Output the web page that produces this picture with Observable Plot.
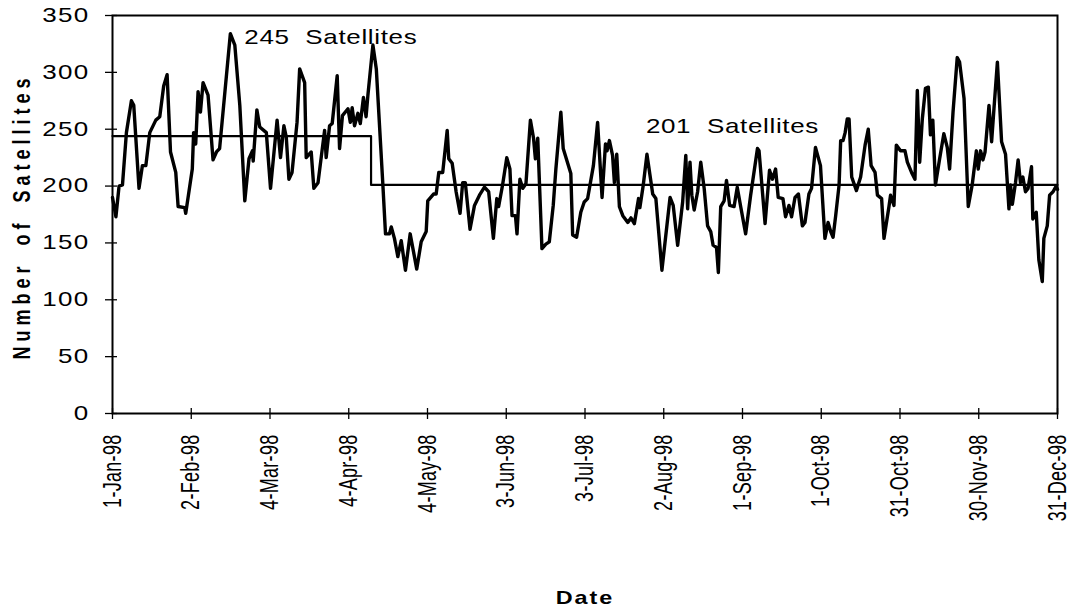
<!DOCTYPE html>
<html><head><meta charset="utf-8">
<script src="https://cdn.jsdelivr.net/npm/d3@7"></script>
<script src="https://cdn.jsdelivr.net/npm/@observablehq/plot@0.6"></script>
<style>body{margin:0;background:#fff}</style>
</head><body><div id="chart"></div>
<script>
// Position along the 1998 axis (category index, 30 per labelled tick) and satellite counts read at the line's vertices
const day = [0,1.3,2.5,3.8,5.3,7.2,8.1,10.1,11.4,12.7,14.2,16.5,18.0,19.5,20.8,22.1,24.1,25.0,27.5,27.9,30.4,30.9,31.7,32.6,33.5,34.5,36.4,38.3,39.6,40.8,
  44.9,46.6,48.5,50.4,52.0,53.3,53.6,55.0,56.1,58.6,60.2,62.7,64.0,65.3,66.2,67.2,68.4,70.3,71.3,73.2,73.8,75.7,76.7,78.3,80.8,81.4,82.7,83.7,85.6,86.5,87.6,
  89.7,90.6,91.3,92.2,93.5,94.4,95.6,96.6,97.3,99.2,100.5,103.0,104.0,105.5,106.2,107.4,108.7,110.0,111.6,113.4,115.9,117.6,119.5,120.1,122.3,123.3,124.3,125.8,127.5,128.1,129.4,130.9,132.4,133.4,134.4,
  136.2,137.9,139.8,141.7,143.3,145.1,146.4,147.1,148.6,150.2,151.4,152.2,153.5,154.1,155.2,156.3,157.5,159.2,160.4,161.1,162.0,163.6,165.1,166.4,167.9,168.9,170.8,171.7,174.6,175.3,176.8,178.4,179.7,181.0,
  183.2,184.8,186.5,187.8,188.4,189.3,190.5,191.2,192.1,193.1,194.4,196.3,197.5,198.8,200.4,200.9,202.2,203.6,205.8,207.0,209.3,212.4,213.6,215.3,217.2,218.4,219.1,220.0,220.7,221.6,222.9,224.1,225.4,226.7,
  227.9,228.8,230.1,230.8,231.7,233.0,233.9,235.1,236.8,238.0,239.3,241.2,243.1,245.7,246.3,248.6,250.3,251.4,252.6,253.6,255.4,256.4,257.7,258.7,260.0,261.3,262.8,263.8,265.3,266.3,267.8,269.7,271.4,
  272.6,273.6,274.5,275.5,276.8,277.4,278.3,279.1,279.9,280.6,281.6,283.4,285.0,286.7,287.9,289.0,290.5,291.4,293.0,293.9,295.8,296.4,297.7,298.6,300.2,301.9,302.8,304.4,305.7,306.6,307.5,308.5,309.7,310.8,311.6,312.5,313.5,315.1,316.7,318.0,318.9,
  320.2,321.8,322.7,324.4,326.0,327.5,329.1,329.8,330.7,331.6,332.4,333.9,334.9,335.8,337.1,338.7,340.2,341.5,342.1,342.8,344.0,345.0,345.9,346.8,347.8,348.8,350.1,350.6,351.9,352.9,354.2,354.8,356.1,357.0,358.3,359.5,360];
const satellites = [190,173,200,201,247,275,271,198,218,218,247,258,261,288,298,230,212,182,181,176,215,247,237,283,265,291,280,223,230,233,
  334,324,271,187,224,231,222,267,252,247,198,258,225,253,243,206,212,256,303,291,225,230,198,203,249,225,253,255,297,233,262,
  268,256,269,253,264,255,278,261,280,324,303,201,158,158,164,154,138,152,126,158,127,151,160,187,193,193,212,212,249,224,220,195,176,203,203,
  162,183,192,199,195,154,189,182,201,225,215,174,174,158,206,198,202,258,242,224,242,145,149,151,183,215,265,233,211,157,155,177,186,189,
  218,256,190,237,231,240,227,203,228,182,174,168,172,167,189,181,201,228,193,189,126,190,183,148,186,227,180,221,192,179,195,221,198,165,
  160,148,146,124,182,187,205,183,182,199,182,158,192,233,231,167,214,206,215,190,189,173,183,173,190,193,165,168,193,198,234,218,154,
  168,160,155,174,201,240,240,247,259,259,208,196,208,236,250,218,212,192,189,154,182,192,183,236,231,231,221,212,206,284,221,259,286,287,245,258,201,224,246,234,215,
  265,313,309,277,182,201,231,215,231,223,230,271,239,268,309,239,228,180,201,184,203,223,203,208,195,198,217,171,177,135,116,154,165,192,195,200,197];

// Period averages (step line)
const meanDay = [0, 98.5, 360];
const meanSatellites = [244, 201, 201];
const annotationText = ["245  Satellites", "201  Satellites"];
const annotationDay = [50.2, 203.2];
const annotationLevel = [331, 252];

// Axis ticks
const yTicks = [0, 50, 100, 150, 200, 250, 300, 350];
const xTickDay = [0, 30, 60, 90, 120, 150, 180, 210, 240, 270, 300, 330, 360];
const xTickLabels = ["1-Jan-98","2-Feb-98","4-Mar-98","4-Apr-98","4-May-98","3-Jun-98","3-Jul-98","2-Aug-98","1-Sep-98","1-Oct-98","31-Oct-98","30-Nov-98","31-Dec-98"];

const points = day.map((d, i) => ({day: d, value: satellites[i]}));
const means = meanDay.map((d, i) => ({day: d, value: meanSatellites[i]}));
const notes = annotationText.map((t, i) => ({text: t, day: annotationDay[i], value: annotationLevel[i]}));

const W = 1070, H = 614, mL = 112, mR = 13, mT = 15, mB = 201;
const innerW = W - mL - mR, innerH = H - mT - mB;

const chart = Plot.plot({
  width: W, height: H,
  marginLeft: mL, marginRight: mR, marginTop: mT, marginBottom: mB,
  style: {fontFamily: "'Liberation Sans', Arial, Helvetica, sans-serif", color: "#000", background: "#fff"},
  x: {type: "linear", domain: [0, 360], axis: null},
  y: {domain: [0, 350], axis: null},
  marks: [
    Plot.axisY({ticks: yTicks, tickFormat: d => String(d), tickSize: 7, tickPadding: 16, fontSize: 20, label: null, strokeWidth: 1.3}),
    Plot.tickY(yTicks, {y: d => d, insetRight: innerW - 5, stroke: "#000", strokeWidth: 1.3}),
    Plot.axisX({ticks: xTickDay, tickFormat: d => xTickLabels[xTickDay.indexOf(d)], tickSize: 6, tickPadding: 15, tickRotate: -90, fontSize: 18, label: null, strokeWidth: 1.3}),
    Plot.tickX(xTickDay, {x: d => d, insetTop: innerH - 5, stroke: "#000", strokeWidth: 1.3}),
    Plot.line(means, {x: "day", y: "value", curve: "step-after", stroke: "#000", strokeWidth: 2.2}),
    Plot.line(points, {x: "day", y: "value", stroke: "#000", strokeWidth: 3.4, strokeLinejoin: "round", strokeLinecap: "round"}),
    Plot.text(notes, {x: "day", y: "value", text: "text", textAnchor: "start", fontSize: 20, fill: "#000"}),
    Plot.text(["Number of Satellites"], {frameAnchor: "left", textAnchor: "middle", dx: -90, dy: 2, rotate: -90, fontSize: 18, fontWeight: "bold", fill: "#000"}),
    Plot.text(["Date"], {frameAnchor: "bottom", dy: 190, fontSize: 18, fontWeight: "bold", fill: "#000"}),
    Plot.frame({stroke: "#000", strokeWidth: 2})
  ]
});

// The original artwork is horizontally stretched: widen every glyph around its own anchor point.
function stretch(el, sx) {
  const t = el.getAttribute("transform") || "";
  const m = /translate\(\s*([-\d.e]+)[ ,]+([-\d.e]+)\s*\)/.exec(t);
  let ax, ay;
  if (m) { ax = +m[1]; ay = +m[2]; }
  else { ax = +(el.getAttribute("x") || 0); ay = +(el.getAttribute("y") || 0); }
  el.setAttribute("transform", `translate(${ax},${ay}) scale(${sx},1) translate(${-ax},${-ay}) ${t}`);
}
const s = d3.select(chart);
s.selectAll('[aria-label="y-axis tick label"] text').style("letter-spacing", "1px").each(function () { stretch(this, 1.3); });
s.selectAll('[aria-label="x-axis tick label"] text').style("letter-spacing", "0.3px").each(function () { stretch(this, 1.42); });
s.selectAll("text").filter(function () { return /^\d+\s+Satellites$/.test(this.textContent); })
  .style("letter-spacing", "0.5px").style("white-space", "pre").each(function () { stretch(this, 1.3); });
s.selectAll("text").filter(function () { return this.textContent === "Number of Satellites"; })
  .style("letter-spacing", "5px").style("word-spacing", "6px").each(function () { stretch(this, 1.3); });
s.selectAll("text").filter(function () { return this.textContent === "Date"; })
  .style("letter-spacing", "1.5px").each(function () { stretch(this, 1.3); });
document.getElementById("chart").appendChild(chart);
</script>
</body></html>
